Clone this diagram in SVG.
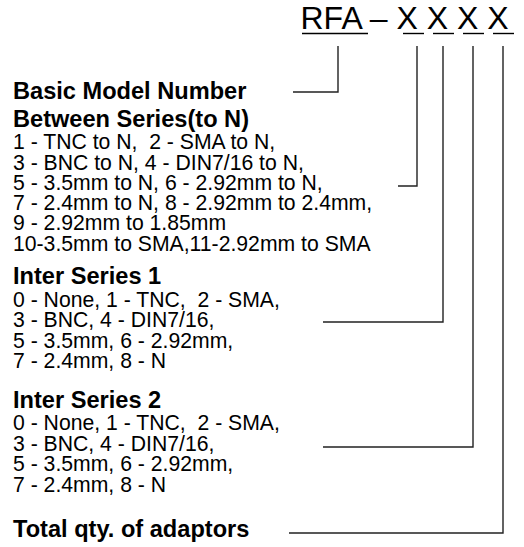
<svg xmlns="http://www.w3.org/2000/svg" width="524" height="547" viewBox="0 0 524 547">
<style>
text{font-family:"Liberation Sans",Arial,sans-serif;fill:#000}
.t{font-size:32px}
.h{font-size:23.6px;font-weight:bold}
.r{font-size:21.2px}
.ul{stroke:#000;stroke-width:1.4;fill:none}
.c{stroke:#222;stroke-width:1.4;fill:none}
</style>
<rect width="524" height="547" fill="#fff"/>
<g id="title">
<text class="t" x="300.5" y="28.5">RFA – X X X X</text>
<line class="ul" x1="302" y1="33.5" x2="368" y2="33.5"/>
<line class="ul" x1="403" y1="33.5" x2="424" y2="33.5"/>
<line class="ul" x1="433" y1="33.5" x2="454" y2="33.5"/>
<line class="ul" x1="463" y1="33.5" x2="484" y2="33.5"/>
<line class="ul" x1="493" y1="33.5" x2="514" y2="33.5"/>
</g>
<g id="basic">
<text class="h" x="13" y="98.5">Basic Model Number</text>
</g>
<g id="between">
<text class="h" x="13" y="127">Between Series(to N)</text>
<text class="r" x="13" y="149" xml:space="preserve">1 - TNC to N,  2 - SMA to N,</text>
<text class="r" x="13" y="169.5">3 - BNC to N, 4 - DIN7/16 to N,</text>
<text class="r" x="13" y="190">5 - 3.5mm to N, 6 - 2.92mm to N,</text>
<text class="r" x="13" y="210">7 - 2.4mm to N, 8 - 2.92mm to 2.4mm,</text>
<text class="r" x="13" y="230">9 - 2.92mm to 1.85mm</text>
<text class="r" x="13" y="250.5">10-3.5mm to SMA,11-2.92mm to SMA</text>
</g>
<g id="inter1">
<text class="h" x="13" y="284">Inter Series 1</text>
<text class="r" x="13" y="306.5" xml:space="preserve">0 - None, 1 - TNC,  2 - SMA,</text>
<text class="r" x="13" y="327">3 - BNC, 4 - DIN7/16,</text>
<text class="r" x="13" y="347.5">5 - 3.5mm, 6 - 2.92mm,</text>
<text class="r" x="13" y="368">7 - 2.4mm, 8 - N</text>
</g>
<g id="inter2">
<text class="h" x="13" y="408">Inter Series 2</text>
<text class="r" x="13" y="429.5" xml:space="preserve">0 - None, 1 - TNC,  2 - SMA,</text>
<text class="r" x="13" y="450.5">3 - BNC, 4 - DIN7/16,</text>
<text class="r" x="13" y="471">5 - 3.5mm, 6 - 2.92mm,</text>
<text class="r" x="13" y="491.5">7 - 2.4mm, 8 - N</text>
</g>
<g id="total">
<text class="h" x="13" y="537">Total qty. of adaptors</text>
</g>
<g id="connectors">
<polyline class="c" points="338,46 338,92 293,92"/>
<polyline class="c" points="417,46 417,186 398,186"/>
<polyline class="c" points="443,46 443,322 323,322"/>
<polyline class="c" points="473,46 473,447 323,447"/>
<polyline class="c" points="503,46 503,533 289,533"/>
</g>
</svg>
